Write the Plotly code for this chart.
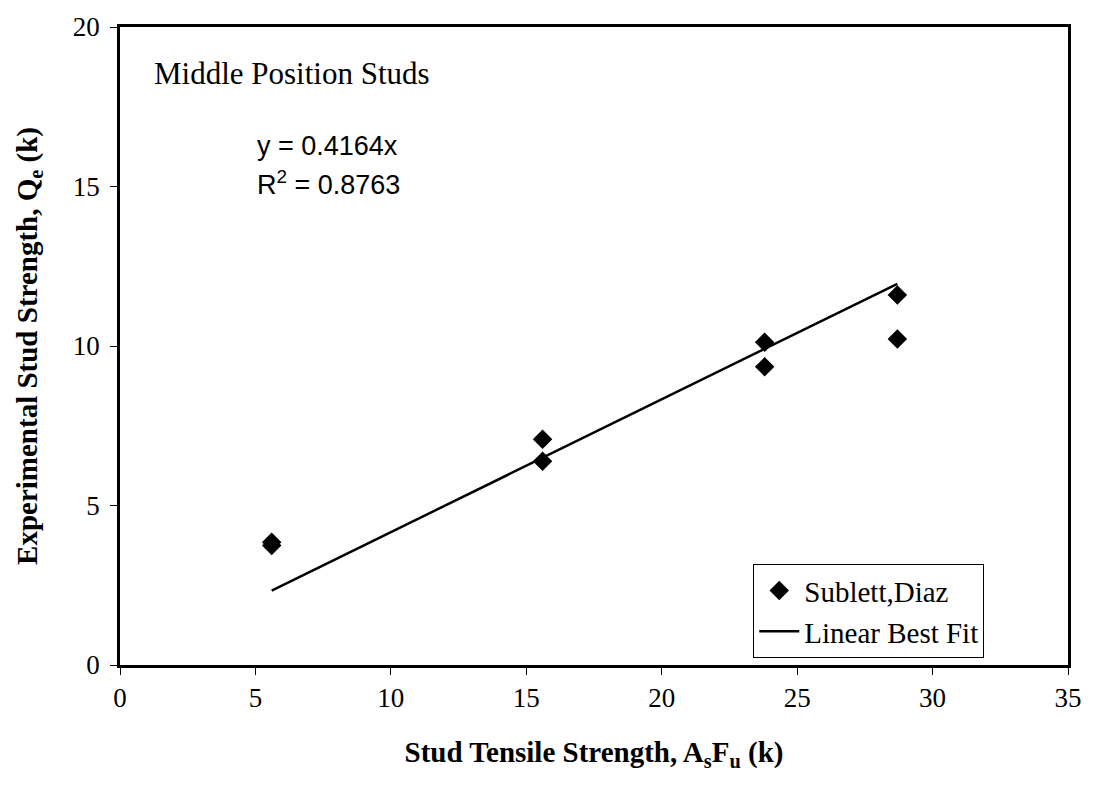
import plotly.graph_objects as go

# Data
x_tensile = [5.6, 5.6, 15.6, 15.6, 23.8, 23.8, 28.7, 28.7]
y_exp = [3.85, 3.75, 7.08, 6.39, 10.12, 9.35, 11.6, 10.22]
slope = 0.4164
r2 = 0.8763

x_ticks = [0, 5, 10, 15, 20, 25, 30, 35]
y_ticks = [0, 5, 10, 15, 20]

fit_x = [min(x_tensile), max(x_tensile)]
fit_y = [slope * v for v in fit_x]

serif = "Liberation Serif, Times New Roman, serif"
sans = "Liberation Sans, Arial, sans-serif"

fig = go.Figure()
fig.add_trace(go.Scatter(
    x=x_tensile, y=y_exp, mode="markers", name="Sublett,Diaz",
    marker=dict(symbol="diamond", size=15, color="black"),
))
fig.add_trace(go.Scatter(
    x=fit_x, y=fit_y, mode="lines", name="Linear Best Fit",
    line=dict(color="black", width=2.5),
))

axis_common = dict(
    showline=True, linecolor="black", linewidth=2.5, mirror=True,
    ticks="outside", ticklen=7, tickwidth=1, tickcolor="black",
    showgrid=False, zeroline=False,
    tickfont=dict(family=serif, size=27, color="black"),
)

fig.update_layout(
    width=1094, height=785,
    margin=dict(l=120, r=20, t=23, b=120),
    plot_bgcolor="white", paper_bgcolor="white",
    xaxis=dict(range=[0, 35], tickvals=x_ticks,
               title=dict(text="<b>Stud Tensile Strength, A<sub>s</sub>F<sub>u</sub> (k)</b>",
                          font=dict(family=serif, size=29, color="black"), standoff=30),
               **axis_common),
    yaxis=dict(range=[0, 20], tickvals=y_ticks, ticklabelstandoff=5,
               title=dict(text="<b>Experimental Stud Strength, Q<sub>e</sub> (k)</b>",
                          font=dict(family=serif, size=29, color="black"), standoff=27),
               **axis_common),
    legend=dict(
        x=0.668, y=0.158, xanchor="left", yanchor="top",
        bordercolor="black", borderwidth=1, bgcolor="white",
        font=dict(family=serif, size=29, color="black"),
        tracegroupgap=0, itemwidth=40,
    ),
    showlegend=True,
    annotations=[
        dict(x=1.19, y=18.54, xref="x", yref="y", text="Middle Position Studs",
             showarrow=False, xanchor="left", yanchor="middle",
             font=dict(family=serif, size=31, color="black")),
        dict(x=5.0, y=16.26, xref="x", yref="y", text=f"y = {slope}x",
             showarrow=False, xanchor="left", yanchor="middle",
             font=dict(family=sans, size=27, color="black")),
        dict(x=5.0, y=15.1, xref="x", yref="y", text=f"R<sup>2</sup> = {r2}",
             showarrow=False, xanchor="left", yanchor="middle",
             font=dict(family=sans, size=27, color="black")),
    ],
)

fig.write_html("out.html")
